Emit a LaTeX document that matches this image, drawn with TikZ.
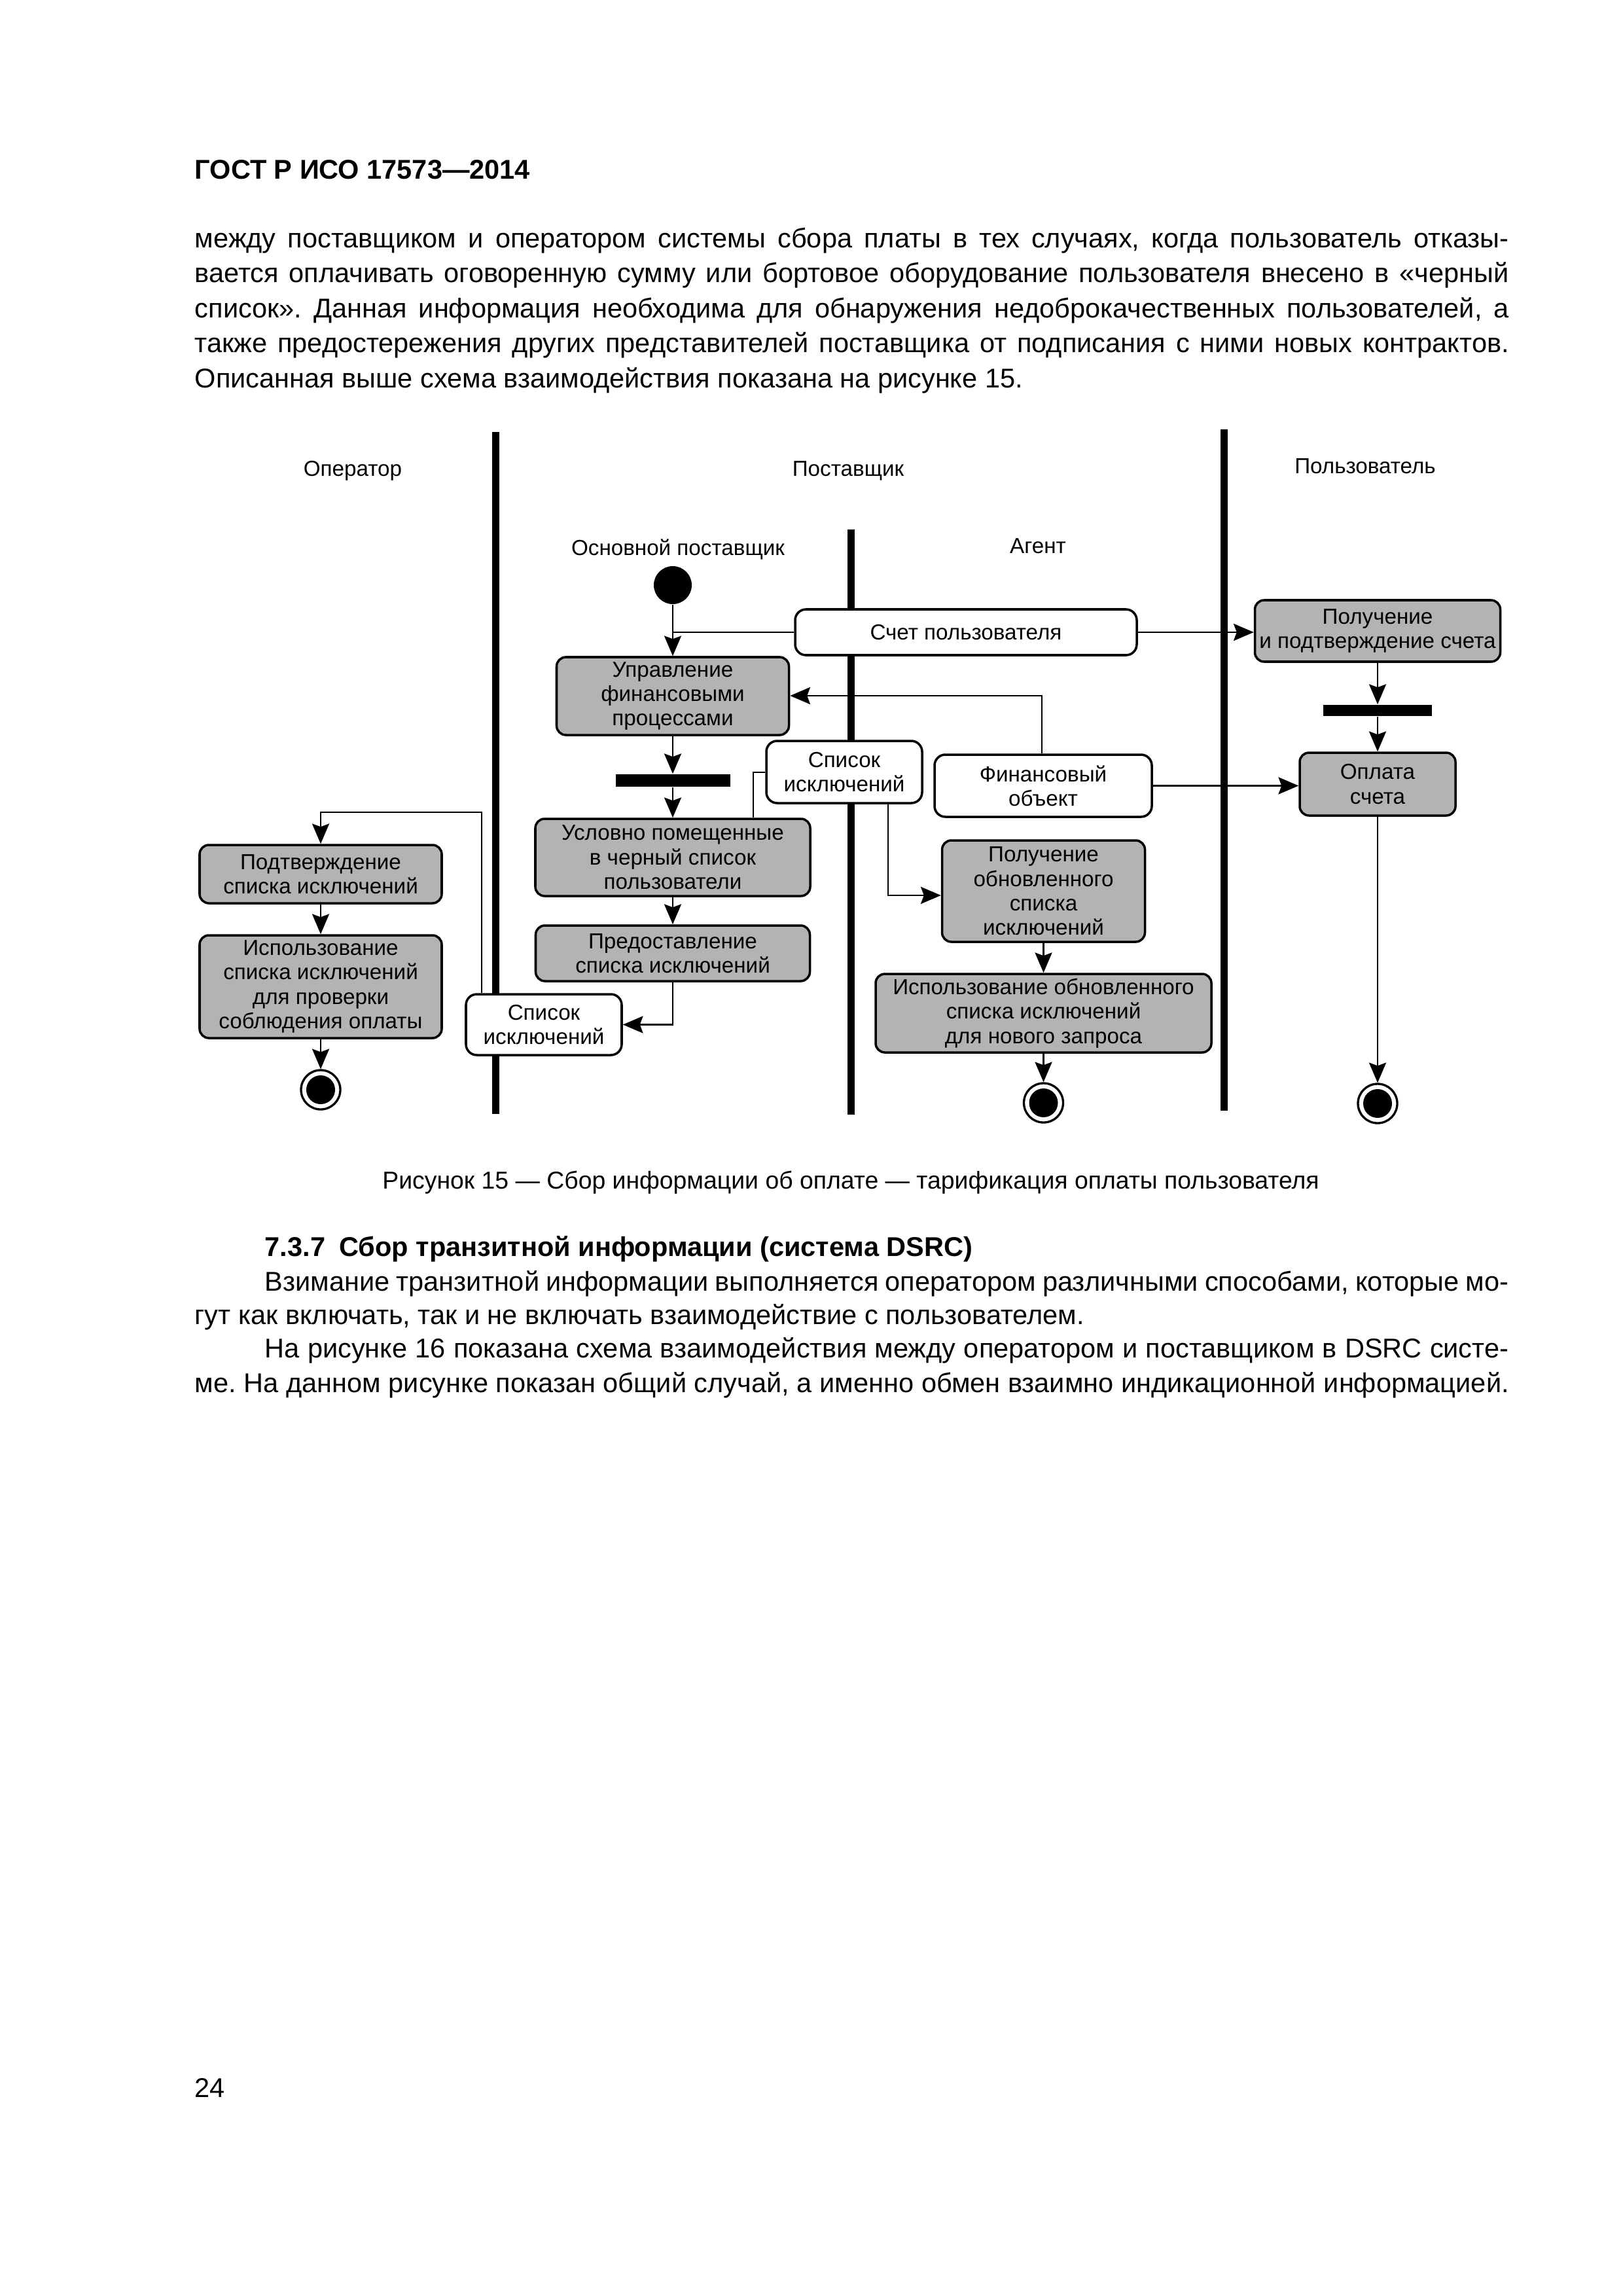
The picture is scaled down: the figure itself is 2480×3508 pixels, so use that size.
\documentclass[tikz,border=0pt]{standalone}
\usepackage{fontspec}
\setmainfont{Liberation Sans}
\usetikzlibrary{arrows.meta}
\definecolor{actgray}{RGB}{179,179,179}
\newcommand\pxu{0.084677mm}
\frenchspacing
\begin{document}
\begin{tikzpicture}[x=0.084677mm, y=-0.084677mm,
  dfont/.style={font=\fontsize{8}{9}\selectfont},
  act/.style={draw, line width=0.85pt, fill=actgray, rounded corners=1.2mm, align=center, inner sep=0pt, dfont},
  obj/.style={draw, line width=0.85pt, fill=white, rounded corners=1.4mm, align=center, inner sep=0pt, dfont},
  lane/.style={line width=0.93mm},
  conn/.style={line width=0.7pt},
  arr/.style={conn, -{Stealth[length=2.6mm,width=2.2mm,inset=0.4mm]}},
  forkbar/.style={fill=black, inner sep=0pt, minimum width=175*\pxu, minimum height=19*\pxu},
  startnode/.style={circle, fill=black, inner sep=0pt, minimum size=58*\pxu},
  endnode/.style={circle, draw, line width=0.8pt, fill=white, inner sep=0pt, minimum size=60*\pxu,
     path picture={\fill[black] (path picture bounding box.center) circle (22*\pxu);}},
  body/.style={anchor=base west, inner sep=0pt, font=\fontsize{10}{12.6}\selectfont},
  lanelabel/.style={anchor=base, inner sep=0pt, dfont}
]
\fill[white] (0,0) rectangle (2480,3508);
\useasboundingbox (0,0) rectangle (2480,3508);

% ---------- page text ----------
\node[anchor=base west, inner sep=0pt, font=\bfseries\fontsize{10}{12}\selectfont] (hdr) at (297,273) {ГОСТ Р ИСО 17573—2014};
\node[body] (t1) at (297,378) {\makebox[170mm][s]{между поставщиком и оператором системы сбора платы в тех случаях, когда пользователь отказы-}};
\node[body] (t2) at (297,431.5) {\makebox[170mm][s]{вается оплачивать оговоренную сумму или бортовое оборудование пользователя внесено в «черный}};
\node[body] (t3) at (297,485) {\makebox[170mm][s]{список». Данная информация необходима для обнаружения недоброкачественных пользователей, а}};
\node[body] (t4) at (297,538.5) {\makebox[170mm][s]{также предостережения других представителей поставщика от подписания с ними новых контрактов.}};
\node[body] (t5) at (297,592) {Описанная выше схема взаимодействия показана на рисунке 15.};

\node[anchor=base, inner sep=0pt, font=\fontsize{9}{11}\selectfont] (cap) at (1300,1816) {Рисунок 15 — Сбор информации об оплате — тарификация оплаты пользователя};
\node[anchor=base west, inner sep=0pt, font=\bfseries\fontsize{10}{12}\selectfont] (sec) at (404,1919) {7.3.7\hspace{1.8mm}Сбор транзитной информации (система DSRC)};
\node[body] (s1) at (404,1972) {\makebox[160.9mm][s]{Взимание транзитной информации выполняется оператором различными способами, которые мо-}};
\node[body] (s2) at (297,2023) {гут как включать, так и не включать взаимодействие с пользователем.};
\node[body] (s3) at (404,2074) {\makebox[160.9mm][s]{На рисунке 16 показана схема взаимодействия между оператором и поставщиком в DSRC систе-}};
\node[body] (s4) at (297,2127) {\makebox[170mm][s]{ме. На данном рисунке показан общий случай, а именно обмен взаимно индикационной информацией.}};
\node[body] (pg) at (297,3204) {24};

% ---------- swimlanes ----------
\draw[lane] (757,660) -- (757,1702);
\draw[lane] (1300,809) -- (1300,1703);
\draw[lane] (1870,656) -- (1870,1697);

\node[lanelabel] (lop) at (539,727) {Оператор};
\node[lanelabel] (lpost) at (1296,727) {Поставщик};
\node[lanelabel] (lpolz) at (2086,723) {Пользователь};
\node[lanelabel] (losn) at (1036,848) {Основной поставщик};
\node[lanelabel] (lag) at (1586,845) {Агент};

% ---------- nodes ----------
\node[startnode] (init) at (1028,894) {};
\node[obj, minimum width=522*\pxu, minimum height=70*\pxu] (schet) at (1476,966) {Счет пользователя};
\node[act, minimum width=375*\pxu, minimum height=94*\pxu] (polsch) at (2105,964) {Получение\\и подтверждение счета};
\node[act, minimum width=355*\pxu, minimum height=119*\pxu] (upr) at (1028,1063.5) {Управление\\финансовыми\\процессами};
\node[forkbar] (bar1) at (1028,1192.5) {};
\node[obj, minimum width=238*\pxu, minimum height=95*\pxu] (spup) at (1290,1179.5) {Список\\исключений};
\node[obj, minimum width=332*\pxu, minimum height=95*\pxu] (fin) at (1594,1200.5) {Финансовый\\объект};
\node[forkbar, minimum width=166*\pxu, minimum height=17*\pxu] (bar2) at (2105,1085.5) {};
\node[act, minimum width=238*\pxu, minimum height=96*\pxu] (opl) at (2105,1198) {Оплата\\счета};
\node[act, minimum width=420*\pxu, minimum height=118*\pxu] (usl) at (1028,1310) {Условно помещенные\\в черный список\\пользователи};
\node[act, minimum width=419*\pxu, minimum height=85*\pxu] (pred) at (1028,1456.5) {Предоставление\\списка исключений};
\node[obj, minimum width=238*\pxu, minimum height=93*\pxu] (splow) at (831,1565.5) {Список\\исключений};
\node[act, minimum width=370*\pxu, minimum height=89*\pxu] (podtv) at (490,1335.5) {Подтверждение\\списка исключений};
\node[act, minimum width=370*\pxu, minimum height=157*\pxu] (ispol) at (490,1507.5) {Использование\\списка исключений\\для проверки\\соблюдения оплаты};
\node[act, minimum width=310*\pxu, minimum height=155*\pxu] (polobn) at (1594.5,1361.5) {Получение\\обновленного\\списка\\исключений};
\node[act, minimum width=513*\pxu, minimum height=120*\pxu] (ispobn) at (1594.5,1548) {Использование обновленного\\списка исключений\\для нового запроса};
\node[endnode] (f1) at (490,1665) {};
\node[endnode] (f2) at (1594.5,1685) {};
\node[endnode] (f3) at (2105,1686) {};

% ---------- connectors ----------
\draw[arr] (init) -- (upr);
\draw[conn] (schet.west) -- (schet.west -| init);
\draw[arr] (schet.east) -- (polsch.west |- schet.east);
\coordinate (k4) at (1592,1063);
\draw[arr] (fin.north -| k4) -- (k4) -- (upr.east |- k4);
\draw[arr] (upr) -- (bar1);
\draw[arr] (bar1) -- (usl);
\coordinate (k7) at (1151,1180);
\draw[conn] (spup.west |- k7) -- (k7) -- (usl.north -| k7);
\coordinate (k8) at (1357,1368);
\draw[arr] (spup.south -| k8) -- (k8) -- (polobn.west |- k8);
\draw[arr] (usl) -- (pred);
\draw[arr] (pred.south) |- (splow.east);
\coordinate (k11) at (736,1241);
\draw[arr] (splow.north -| k11) -- (k11) -| (podtv.north);
\draw[arr] (podtv) -- (ispol);
\draw[arr] (ispol) -- (f1);
\draw[arr] (polobn) -- (ispobn);
\draw[arr] (ispobn) -- (f2);
\draw[arr] (polsch) -- (bar2);
\draw[arr] (bar2) -- (opl);
\draw[arr] (opl) -- (f3);
\draw[arr] (fin.east) -- (opl.west |- fin.east);
\end{tikzpicture}
\end{document}
